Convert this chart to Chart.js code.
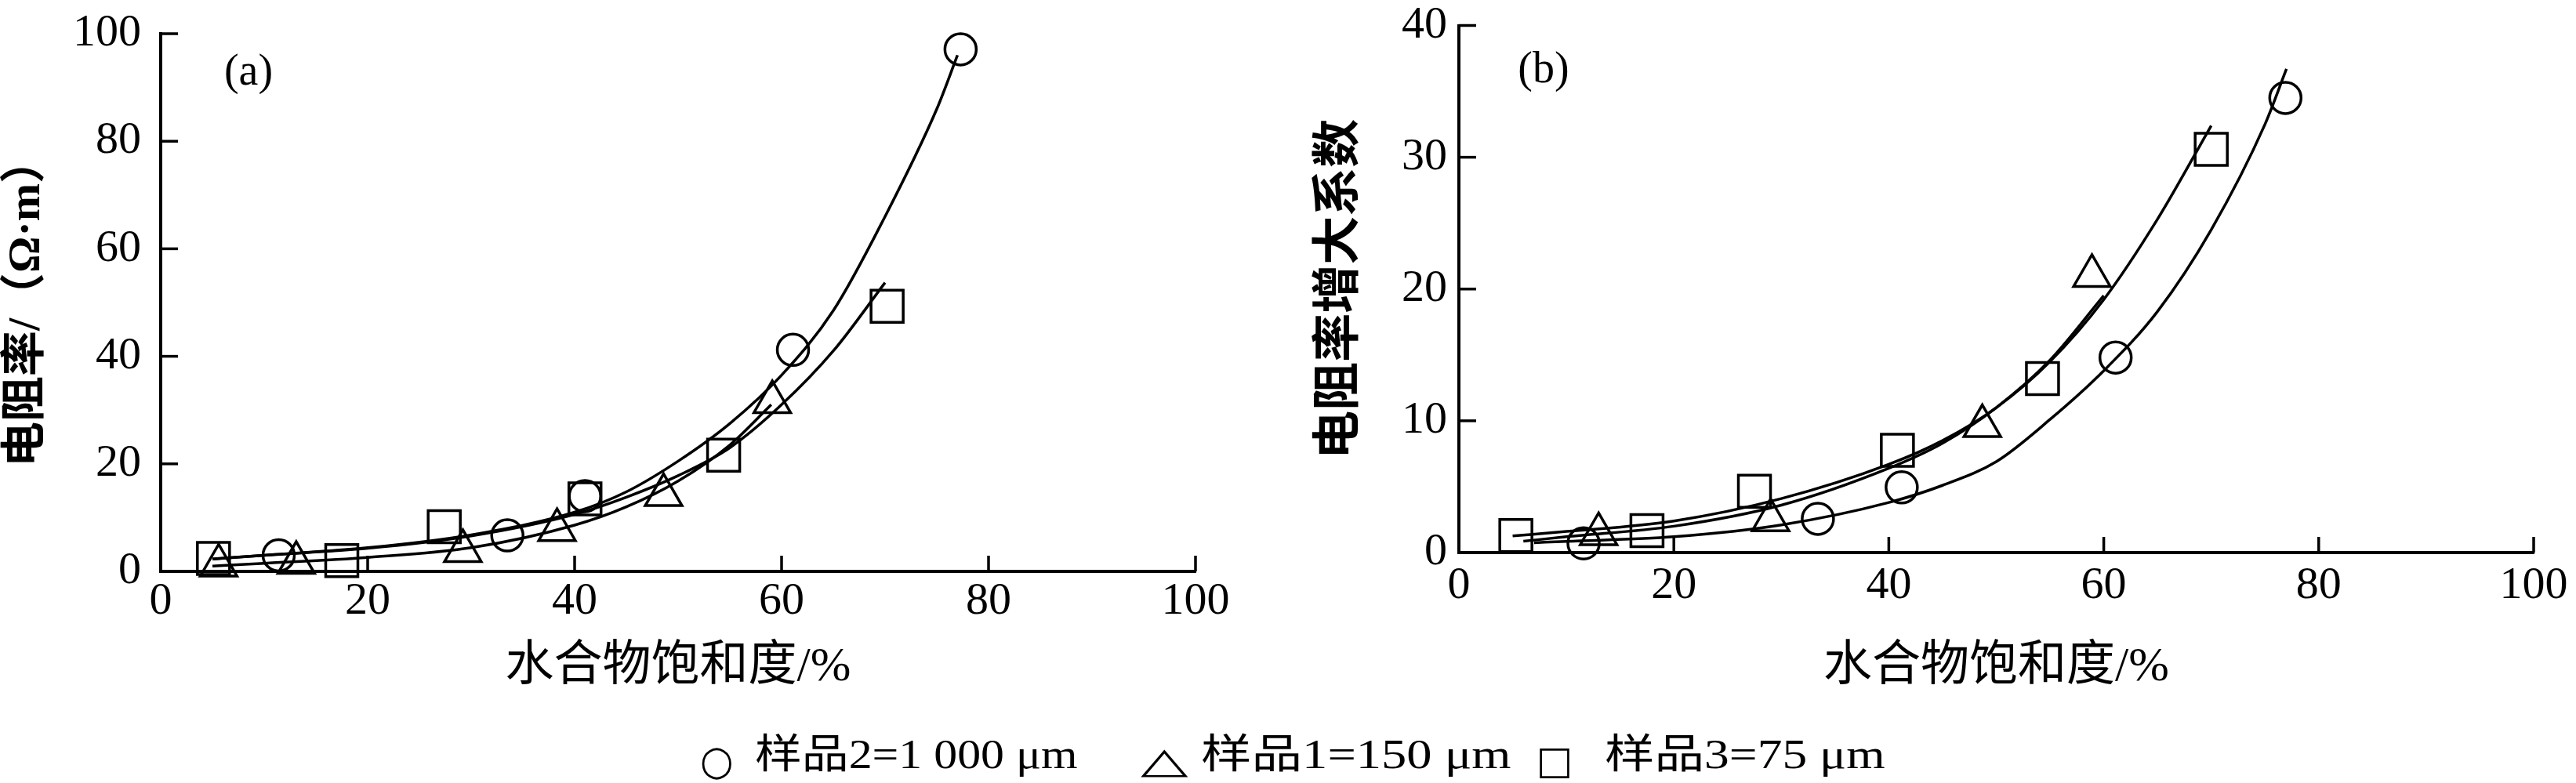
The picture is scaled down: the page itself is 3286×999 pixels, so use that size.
<!DOCTYPE html>
<html>
<head>
<meta charset="utf-8">
<script src="https://cdn.jsdelivr.net/npm/chart.js@4.4.0/dist/chart.umd.min.js"></script>
<style>
  html, body { margin: 0; padding: 0; background: #fff; }
  body { width: 3286px; height: 999px; position: relative; overflow: hidden; }
  canvas { position: absolute; top: 0; }
  #chartA { left: 0; }
  #chartB { left: 1640px; }
  .lg {
    position: absolute; top: 937px; white-space: pre; color: #000;
    font-family: "Liberation Serif", "Noto Sans CJK SC", serif;
    font-size: 52px; line-height: 52px; transform-origin: left center;
  }
  .lg.sym { font-family: "DejaVu Sans", sans-serif; line-height: 60px; top: 940px; }
</style>
</head>
<body>
<canvas id="chartA" width="1640" height="900"></canvas>
<canvas id="chartB" width="1646" height="900"></canvas>
<script>
// axes
var xTicks = [0, 20, 40, 60, 80, 100];
var yTicksA = [0, 20, 40, 60, 80, 100];
var yTicksB = [0, 10, 20, 30, 40];
var xTitle = '水合物饱和度/%';
var yTitleA = '电阻率/（Ω·m）';
var yTitleB = '电阻率增大系数';

// series: circle, triangle, square
var seriesNames = ['样品2=1 000 μm', '样品1=150 μm', '样品3=75 μm'];
var seriesSymbols = ['○', '△', '□'];
var pointStyles = ['circle', 'triangle', 'rect'];
var pointSizes = [20, 27, 29];

// (a) measured
var aCircleX = [11.4, 33.5, 41.0, 61.1, 77.3];
var aCircleY = [3.0, 6.7, 14.0, 41.2, 97.1];
var aTriX = [5.6, 13.1, 29.2, 38.3, 48.6, 59.1];
var aTriY = [1.1, 1.6, 3.8, 7.7, 14.2, 31.5];
var aSqX = [5.1, 17.5, 27.4, 41.0, 54.4, 70.2];
var aSqY = [2.4, 2.0, 8.3, 13.5, 21.6, 49.3];

// (a) fitted curves
var aCircleFitX = [5, 10, 20, 30, 40, 45, 50, 55, 60, 65, 70, 75, 77];
var aCircleFitY = [2.3, 3.0, 4.4, 6.8, 11.0, 14.8, 20.5, 27.5, 36.5, 48.5, 66, 86, 96];
var aTriFitX = [5, 10, 20, 30, 40, 45, 50, 55, 59];
var aTriFitY = [1.0, 1.5, 2.6, 4.4, 8.6, 12, 16.8, 23.5, 31];
var aSqFitX = [5, 10, 20, 30, 40, 45, 50, 55, 60, 65, 70];
var aSqFitY = [2.3, 3.0, 4.3, 6.6, 10.6, 13.8, 17.8, 23, 31, 41, 53.7];

// (b) measured
var bCircleX = [11.6, 33.4, 41.2, 61.1, 76.9];
var bCircleY = [0.7, 2.56, 4.95, 14.8, 34.5];
var bTriX = [13.0, 29.0, 48.7, 58.9];
var bTriY = [1.4, 2.46, 9.6, 21.0];
var bSqX = [5.3, 17.5, 27.5, 40.8, 54.3, 70.0];
var bSqY = [1.3, 1.67, 4.65, 7.76, 13.2, 30.6];

// (b) fitted curves
var bCircleFitX = [7, 10, 20, 30, 40, 45, 50, 55, 60, 65, 70, 75, 77];
var bCircleFitY = [0.75, 0.85, 1.2, 2.1, 3.8, 5.1, 6.9, 10.1, 13.8, 18.3, 24.5, 32.5, 36.7];
var bTriFitX = [6, 10, 20, 30, 40, 45, 50, 55, 60];
var bTriFitY = [0.86, 1.2, 2.0, 3.6, 6.4, 8.3, 11.0, 14.6, 19.5];
var bSqFitX = [5, 10, 20, 30, 40, 45, 50, 55, 60, 65, 70];
var bSqFitY = [1.26, 1.6, 2.4, 4.1, 6.7, 8.5, 11.0, 14.5, 19.2, 25.3, 32.4];

var serif = '"Liberation Serif", "Noto Sans CJK SC", serif';

function pts(xs, ys) {
  return xs.map(function (x, i) { return { x: x, y: ys[i] }; });
}

function markerSet(xs, ys, k) {
  return {
    data: pts(xs, ys),
    pointStyle: pointStyles[k],
    pointRadius: pointSizes[k],
    pointBorderWidth: 3.5,
    pointBorderColor: '#000',
    pointBackgroundColor: 'rgba(0,0,0,0)',
    showLine: false,
    clip: false
  };
}

function fitSet(xs, ys) {
  return {
    data: pts(xs, ys),
    showLine: true,
    borderColor: '#000',
    borderWidth: 3.5,
    pointRadius: 0,
    cubicInterpolationMode: 'monotone',
    fill: false,
    clip: false
  };
}

// tick marks drawn inward from the axis lines
var innerTicks = {
  id: 'innerTicks',
  afterDraw: function (chart) {
    var ctx = chart.ctx, a = chart.chartArea;
    var xs = chart.scales.x, ys = chart.scales.y;
    ctx.save();
    ctx.strokeStyle = '#000';
    ctx.lineWidth = 3.5;
    xs.ticks.forEach(function (t) {
      if (t.value === xs.min) return;
      var px = xs.getPixelForValue(t.value);
      ctx.beginPath(); ctx.moveTo(px, a.bottom); ctx.lineTo(px, a.bottom - 20); ctx.stroke();
    });
    ys.ticks.forEach(function (t) {
      if (t.value === ys.min) return;
      var py = ys.getPixelForValue(t.value);
      ctx.beginPath(); ctx.moveTo(a.left, py); ctx.lineTo(a.left + 22, py); ctx.stroke();
    });
    ctx.restore();
  }
};

var panelLabel = {
  id: 'panelLabel',
  afterDraw: function (chart, args, opts) {
    var ctx = chart.ctx, a = chart.chartArea;
    ctx.save();
    ctx.font = '56px "Liberation Serif"';
    ctx.fillStyle = '#000';
    ctx.textAlign = 'center';
    ctx.textBaseline = 'middle';
    ctx.fillText(opts.text, a.left + opts.dx, a.top + opts.dy);
    ctx.restore();
  }
};

function makeChart(id, o) {
  return new Chart(document.getElementById(id), {
    type: 'scatter',
    data: { datasets: o.datasets },
    plugins: [innerTicks, panelLabel],
    options: {
      responsive: false,
      animation: false,
      devicePixelRatio: 1,
      events: [],
      layout: { padding: o.padding },
      plugins: {
        legend: { display: false },
        tooltip: { enabled: false },
        panelLabel: o.label
      },
      scales: {
        x: {
          type: 'linear',
          min: xTicks[0],
          max: xTicks[xTicks.length - 1],
          afterBuildTicks: function (s) { s.ticks = xTicks.map(function (v) { return { value: v }; }); },
          afterFit: function (s) { s.height = o.xHeight; s.paddingLeft = 0; s.paddingRight = 0; },
          ticks: { font: { family: serif, size: 58 }, color: '#000', padding: o.xPad, maxRotation: 0, autoSkip: false },
          grid: { display: false, drawTicks: false },
          border: { display: true, color: '#000', width: 4 },
          title: { display: true, text: xTitle, color: '#000', font: { family: serif, size: 62 }, padding: { top: 0, bottom: 0 } }
        },
        y: {
          type: 'linear',
          min: o.yTicks[0],
          max: o.yTicks[o.yTicks.length - 1],
          afterBuildTicks: function (s) { s.ticks = o.yTicks.map(function (v) { return { value: v }; }); },
          afterFit: function (s) { s.width = o.yWidth; s.paddingTop = 0; s.paddingBottom = 0; },
          ticks: { font: { family: serif, size: 58 }, color: '#000', padding: o.yPad, autoSkip: false },
          grid: { display: false, drawTicks: false },
          border: { display: true, color: '#000', width: 4 },
          title: { display: true, text: o.yTitle, color: '#000', font: { family: serif, size: o.yTitleSize, weight: 'bold' }, padding: { top: o.yTitlePad, bottom: 0 } }
        }
      }
    }
  });
}

makeChart('chartA', {
  datasets: [
    fitSet(aCircleFitX, aCircleFitY),
    fitSet(aTriFitX, aTriFitY),
    fitSet(aSqFitX, aSqFitY),
    markerSet(aCircleX, aCircleY, 0),
    markerSet(aTriX, aTriY, 1),
    markerSet(aSqX, aSqY, 2)
  ],
  padding: { left: 0, top: 43, right: 115, bottom: 11 },
  xHeight: 160, xPad: 4,
  yTicks: yTicksA, yWidth: 205, yPad: 25,
  yTitle: yTitleA, yTitleSize: 58, yTitlePad: 0,
  label: { text: '(a)', dx: 112, dy: 50 }
});

makeChart('chartB', {
  datasets: [
    fitSet(bCircleFitX, bCircleFitY),
    fitSet(bTriFitX, bTriFitY),
    fitSet(bSqFitX, bSqFitY),
    markerSet(bCircleX, bCircleY, 0),
    markerSet(bTriX, bTriY, 1),
    markerSet(bSqX, bSqY, 2)
  ],
  padding: { left: 0, top: 22, right: 54, bottom: 11 },
  xHeight: 184, xPad: 8,
  yTicks: yTicksB, yWidth: 221, yPad: 15,
  yTitle: yTitleB, yTitleSize: 62, yTitlePad: 34,
  label: { text: '(b)', dx: 108, dy: 58 }
});

// shared legend under both panels: each piece stretched to the reference width
// [symbol left, symbol width, symbol font size, text left, text width]
var legendBoxes = [
  [893, 42, 52, 963, 412],
  [1455, 60, 46, 1532, 396],
  [1960, 46, 50, 2047, 358]
];
function legendPiece(text, cls, left, width, size) {
  var el = document.createElement('span');
  el.className = cls;
  el.textContent = text;
  el.style.left = left + 'px';
  if (size) el.style.fontSize = size + 'px';
  document.body.appendChild(el);
  el.style.transform = 'scaleX(' + (width / el.offsetWidth) + ')';
}
seriesNames.forEach(function (name, i) {
  var b = legendBoxes[i];
  legendPiece(seriesSymbols[i], 'lg sym', b[0], b[1], b[2]);
  legendPiece(name, 'lg', b[3], b[4]);
});
</script>
</body>
</html>
